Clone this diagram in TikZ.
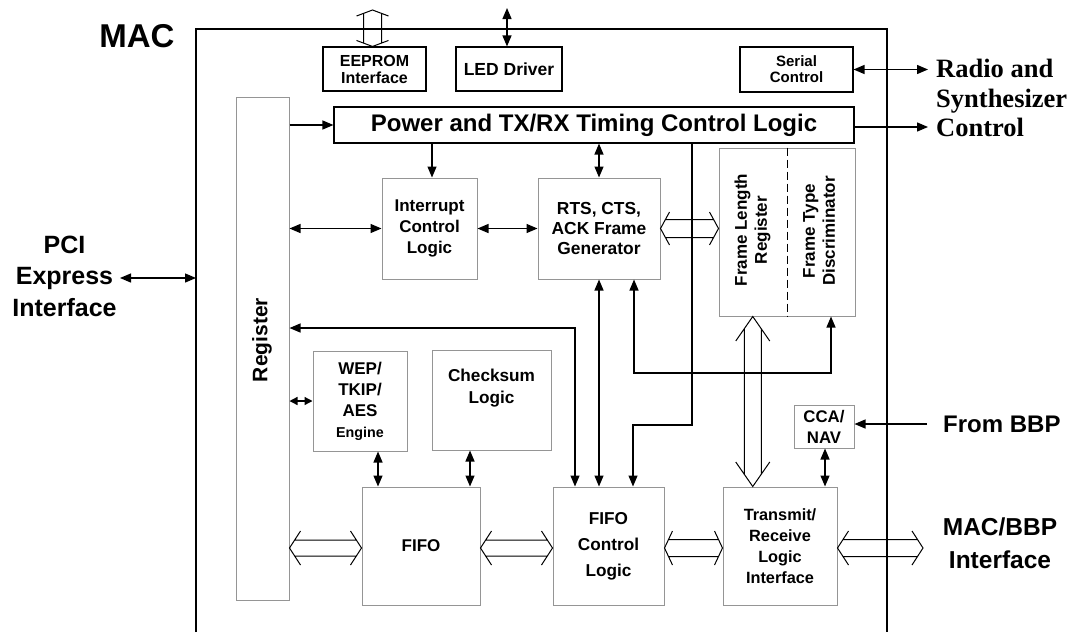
\documentclass[tikz,border=0pt]{standalone}
\usepackage{fontspec}
\setmainfont{Liberation Sans}
\newfontfamily\timesbf{Liberation Serif}
\usetikzlibrary{arrows.meta,calc}
\definecolor{boxgrey}{HTML}{959595}
\newcommand\hwide[5]{% left tip, right tip, head height, head half width, line half sep
  \draw[wide] let \p1=#1, \p2=#2 in
    (\x1+#3pt,\y1-#4pt) -- (\x1,\y1) -- (\x1+#3pt,\y1+#4pt)
    (\x2-#3pt,\y1-#4pt) -- (\x2,\y1) -- (\x2-#3pt,\y1+#4pt)
    (\x1+#3*#5/#4*1pt,\y1-#5pt) -- (\x2-#3*#5/#4*1pt,\y1-#5pt)
    (\x1+#3*#5/#4*1pt,\y1+#5pt) -- (\x2-#3*#5/#4*1pt,\y1+#5pt);}
\newcommand\vwide[5]{% top tip, bottom tip, head height, head half width, line half sep
  \draw[wide] let \p1=#1, \p2=#2 in
    (\x1-#4pt,\y1-#3pt) -- (\x1,\y1) -- (\x1+#4pt,\y1-#3pt)
    (\x1-#4pt,\y2+#3pt) -- (\x1,\y2) -- (\x1+#4pt,\y2+#3pt)
    (\x1-#5pt,\y1-#3*#5/#4*1pt) -- (\x1-#5pt,\y2+#3*#5/#4*1pt)
    (\x1+#5pt,\y1-#3*#5/#4*1pt) -- (\x1+#5pt,\y2+#3*#5/#4*1pt);}
\begin{document}
\begin{tikzpicture}[x=1pt,y=-1pt,
  box/.style={draw=boxgrey, line width=1pt, inner sep=0pt, align=center,
    font=\bfseries\fontsize{17}{21}\selectfont},
  bbox/.style={box, draw=black, line width=1.1pt},
  conn/.style={line width=1.3pt},
  arr/.style={conn, -{Triangle[length=11pt,width=9pt]}},
  darr/.style={conn, {Triangle[length=11pt,width=9pt]}-{Triangle[length=11pt,width=9pt]}},
  sdarr/.style={conn, {Triangle[length=8pt,width=8pt]}-{Triangle[length=8pt,width=8pt]}},
  wide/.style={line width=1pt},
  lbl/.style={inner sep=0pt, align=center, font=\bfseries\fontsize{24}{33}\selectfont}]
\useasboundingbox (0,0) rectangle (1078,632);
\fill[white] (0,0) rectangle (1078,632);

% outer MAC box
\coordinate (otl) at (196,29);
\coordinate (otr) at (887,29);
\draw[line width=1.2pt] (otl |- 0,632) -- (otl) -- (otr) -- (otr |- 0,632);

% labels outside
\node[lbl, font=\bfseries\fontsize{33}{36}\selectfont] (maclbl) at (137,36.5) {MAC};
\node[lbl, font=\bfseries\fontsize{25}{31.5}\selectfont] (pcilbl) at (64.5,276) {PCI\\Express\\Interface};
\node[lbl, anchor=west, align=left, font=\timesbf\bfseries\fontsize{26.5}{29.5}\selectfont] (radiolbl) at (936,98) {Radio and\\Synthesizer\\Control};
\node[lbl, anchor=west] (bbplbl) at (943,424) {From BBP};
\node[lbl, font=\bfseries\fontsize{24.5}{33}\selectfont] (mbilbl) at (1000,543) {MAC/BBP\\Interface};

% boxes
\node[bbox, minimum width=103pt, minimum height=44pt, font=\bfseries\fontsize{16}{17}\selectfont] (eeprom) at (374.5,69) {EEPROM\\Interface};
\node[bbox, minimum width=106pt, minimum height=44pt, font=\bfseries\fontsize{17.5}{20}\selectfont] (led) at (509,69) {LED Driver};
\node[bbox, minimum width=113pt, minimum height=45pt, font=\bfseries\fontsize{15}{16}\selectfont] (serial) at (796.5,69.5) {Serial\\Control};
\node[bbox, minimum width=520pt, minimum height=36pt, font=\bfseries\fontsize{24}{26}\selectfont] (power) at (594,125) {Power and TX/RX Timing Control Logic};
\node[box, minimum width=53pt, minimum height=503pt] (reg) at (262.5,348.5) {};
\node[rotate=90, inner sep=0pt, font=\bfseries\fontsize{21}{24}\selectfont] (regtxt) at (262,340) {Register};
\node[box, minimum width=95pt, minimum height=101pt] (intr) at (429.5,228.5) {Interrupt\\Control\\Logic};
\node[box, minimum width=122pt, minimum height=101pt, font=\bfseries\fontsize{17.4}{20}\selectfont] (rts) at (599,228.5) {RTS, CTS,\\ACK Frame\\Generator};
\node[box, minimum width=136pt, minimum height=168pt] (frame) at (787,232) {};
\draw[conn, line width=1pt, dash pattern=on 8pt off 4pt] (frame.north) -- (frame.south);
\node[rotate=90, inner sep=0pt, align=center, font=\bfseries\fontsize{17}{20}\selectfont] (fltxt) at (752.5,230) {Frame Length\\Register};
\node[rotate=90, inner sep=0pt, align=center, font=\bfseries\fontsize{17}{20}\selectfont] (fttxt) at (819,231) {Frame Type\\Discriminator};
\node[box, minimum width=94pt, minimum height=100pt] (wep) at (360,401) {WEP/\\TKIP/\\AES\\{\fontsize{14.3}{21}\selectfont Engine}};
\node[box, minimum width=119pt, minimum height=100pt, font=\bfseries\fontsize{17.2}{22}\selectfont] (chk) at (491.5,400) {Checksum\\Logic\\[6pt]};
\node[box, minimum width=118pt, minimum height=118pt] (fifo) at (421,546) {FIFO};
\node[box, minimum width=111pt, minimum height=118pt, font=\bfseries\fontsize{17.2}{26}\selectfont] (fctl) at (608.5,546) {FIFO\\Control\\Logic};
\node[box, minimum width=114pt, minimum height=118pt, font=\bfseries\fontsize{16.3}{21}\selectfont] (trx) at (780,546) {Transmit/\\Receive\\Logic\\Interface};
\node[box, minimum width=60pt, minimum height=43pt, font=\bfseries\fontsize{16.8}{21}\selectfont] (cca) at (824,426.5) {CCA/\\NAV};

% helper coordinates for free ends and bends
\coordinate (eetop) at (372.5,10);
\coordinate (ledtop) at (507,8);
\coordinate (rsc) at (928,70);
\coordinate (pciend) at (120,278);
\coordinate (bbp) at (927,424);
\coordinate (mbi) at (923,546);
\coordinate (ya) at (575,328);
\coordinate (xa) at (692,425);
\coordinate (xb) at (633,425);
\coordinate (za) at (634,373);
\coordinate (zb) at (831,373);
\coordinate (fw) at ($(frame.south west)!0.5!(frame.south)$);

% connectors
\vwide{(eetop)}{(eetop |- eeprom.north)}{6}{16}{9}
\draw[darr] (ledtop) -- (ledtop |- led.north);
\draw[darr] (serial.east) -- (serial.east -| rsc);
\draw[arr] ([yshift=-2pt]power.east) -- ([yshift=-2pt]power.east -| rsc);
\draw[darr] (pciend) -- (pciend -| otl);
\draw[arr] (reg.east |- power.west) -- (power.west);
\draw[arr] ([xshift=2.5pt]power.south -| intr.north) -- ([xshift=2.5pt]intr.north);
\draw[darr] (reg.east |- intr.west) -- (intr.west);
\draw[darr] (intr.east) -- (rts.west);
\draw[darr] (power.south -| rts.north) -- (rts.north);
\hwide{(rts.east)}{(rts.east -| frame.west)}{9}{16.5}{9}
\draw[darr] (reg.east |- ya) -- (ya) -- (ya |- fctl.north);
\draw[darr] (rts.south) -- (rts.south |- fctl.north);
\draw[arr] (power.south -| xa) -- (xa) -- (xb) -- (xb |- fctl.north);
\draw[darr] (za |- rts.south) -- (za) -- (zb) -- (zb |- frame.south);
\vwide{(fw)}{(fw |- trx.north)}{24.5}{17}{8.5}
\draw[arr] (bbp) -- (bbp -| cca.east);
\draw[darr] ([xshift=1pt]cca.south) -- ([xshift=1pt]cca.south |- trx.north);
\draw[sdarr] (reg.east |- wep.west) -- (wep.west);
\draw[darr] ([xshift=18pt]wep.south) -- ([xshift=18pt]wep.south |- fifo.north);
\draw[darr] ([xshift=-21.5pt]chk.south) -- ([xshift=-21.5pt]chk.south |- fifo.north);
\hwide{([yshift=-2pt]reg.east |- fifo.west)}{([yshift=-2pt]fifo.west)}{11}{17}{8}
\hwide{([yshift=-2pt]fifo.east)}{([yshift=-2pt]fctl.west)}{11}{17}{8}
\hwide{([yshift=-2pt]fctl.east)}{([yshift=-2pt]trx.west)}{8}{17}{8.5}
\hwide{([yshift=-2pt]trx.east)}{([yshift=-2pt]trx.east -| mbi)}{11}{17}{8.5}
\end{tikzpicture}
\end{document}
